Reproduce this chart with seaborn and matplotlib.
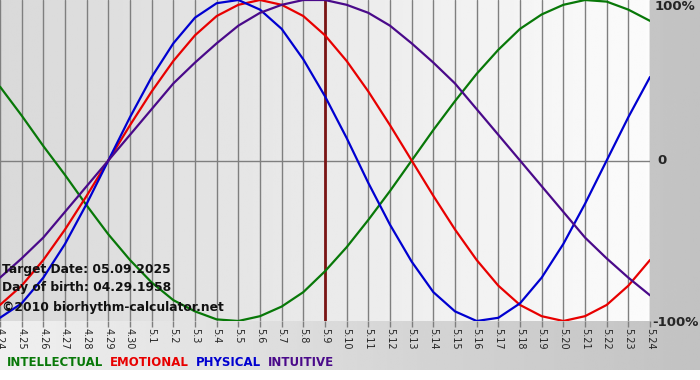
import numpy as np
import pandas as pd
import seaborn as sns
import matplotlib.pyplot as plt

# day labels 4.24 .. 5.24
day_labels = ['4.24', '4.25', '4.26', '4.27', '4.28', '4.29', '4.30'] + ['5.%d' % i for i in range(1, 25)]

# cycle values (%), one per day
physical = [-98, -89, -73, -52, -27, 0, 27, 52, 73, 89, 98, 100, 94, 82, 63, 40,
            14, -14, -40, -63, -82, -94, -100, -98, -89, -73, -52, -27, 0, 27, 52]
emotional = [-90, -78, -62, -43, -22, 0, 22, 43, 62, 78, 90, 97, 100, 97, 90, 78,
             62, 43, 22, 0, -22, -43, -62, -78, -90, -97, -100, -97, -90, -78, -62]
intellectual = [46, 28, 9, -9, -28, -46, -62, -76, -87, -94, -99, -100, -97, -91, -82, -69,
                -54, -37, -19, 0, 19, 37, 54, 69, 82, 91, 97, 100, 99, 94, 87]
intuitive = [-73, -61, -48, -32, -16, 0, 16, 32, 48, 61, 73, 84, 92, 97, 100, 100,
             97, 92, 84, 73, 61, 48, 32, 16, 0, -16, -32, -48, -61, -73, -84]

target_idx = day_labels.index('5.9')

colors = {'INTELLECTUAL': '#087808', 'EMOTIONAL': '#e80000',
          'PHYSICAL': '#0000d0', 'INTUITIVE': '#4a0a8a'}

frames = []
for name, vals in [('INTELLECTUAL', intellectual), ('EMOTIONAL', emotional),
                   ('PHYSICAL', physical), ('INTUITIVE', intuitive)]:
    frames.append(pd.DataFrame({'day': range(len(vals)), 'value': vals, 'cycle': name}))
df = pd.concat(frames, ignore_index=True)

sns.set_theme(style='white')
plt.rcParams['font.family'] = ['DejaVu Sans']

fig = plt.figure(figsize=(7, 3.8), dpi=100)

# outer background gradient
bg = fig.add_axes([0, 0, 1, 1])
grad = np.linspace(0.94, 0.76, 256).reshape(1, -1)
bg.imshow(np.repeat(grad, 2, axis=0), cmap='gray', vmin=0, vmax=1, aspect='auto',
          extent=[0, 1, 10 / 380, 1])
bg.set_xlim(0, 1)
bg.set_ylim(0, 1)
bg.axis('off')

ax = fig.add_axes([0, 59 / 380, 650 / 700, 321 / 380])
ax.set_xlim(0, len(day_labels) - 1)
ax.set_ylim(-100, 100)
pgrad = np.linspace(0.85, 0.985, 256).reshape(1, -1)
ax.imshow(np.repeat(pgrad, 2, axis=0), cmap='gray', vmin=0, vmax=1, aspect='auto',
          extent=[0, len(day_labels) - 1, -100, 100], zorder=0)

for i in range(len(day_labels)):
    ax.axvline(i, color='#7f7f7f', lw=1, zorder=1)
ax.axhline(0, color='#7f7f7f', lw=1, zorder=1)

sns.lineplot(data=df, x='day', y='value', hue='cycle', palette=colors, lw=1.6,
             legend=False, ax=ax, zorder=3)
ax.axvline(target_idx, color='#7a1414', lw=2, zorder=2)

ax.set_xticks(range(len(day_labels)))
ax.set_xticklabels(day_labels, rotation=270, fontsize=7)
ax.tick_params(axis='x', length=4, width=1, color='#7f7f7f', pad=1, bottom=True)
ax.set_yticks([])
ax.set_xlabel('')
ax.set_ylabel('')
for s in ax.spines.values():
    s.set_visible(False)

# right side percent labels
fig.text(655 / 700, 1 - 7 / 380, '100%', fontsize=9.5, fontweight='bold', va='center')
fig.text(657 / 700, 1 - 160 / 380, '0', fontsize=9.5, fontweight='bold', va='center')
fig.text(652 / 700, 1 - 322 / 380, '-100%', fontsize=9.5, fontweight='bold', va='center')

# info text
for y, t in [(270, 'Target Date: 05.09.2025'), (288, 'Day of birth: 04.29.1958'),
             (307, '\u00a92010 biorhythm-calculator.net')]:
    fig.text(2 / 700, 1 - y / 380, t, fontsize=8.8, fontweight='bold', va='center', color='#111111')

# legend text
x = 7
for name in ['INTELLECTUAL', 'EMOTIONAL', 'PHYSICAL', 'INTUITIVE']:
    t = fig.text(x / 700, 1 - 362 / 380, name, fontsize=8.5, fontweight='bold',
                 va='center', color=colors[name])
    fig.canvas.draw()
    w = t.get_window_extent().width
    x += w + 7

fig.savefig('out.png', dpi=100)
